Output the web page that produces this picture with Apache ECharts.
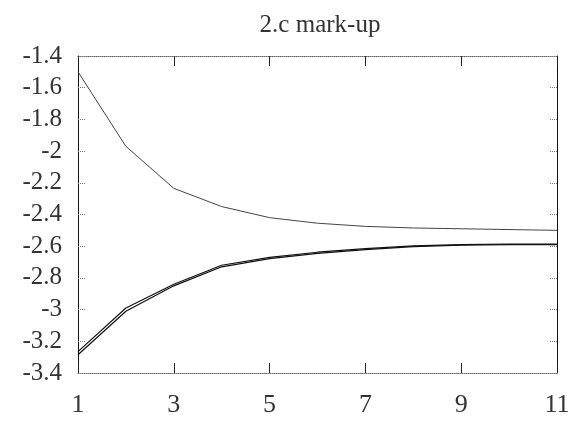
<!DOCTYPE html>
<html>
<head>
<meta charset="utf-8">
<script src="https://cdn.jsdelivr.net/npm/echarts@6/dist/echarts.min.js"></script>
<style>
  html, body { margin: 0; padding: 0; background: #fff; }
  #chart { width: 579px; height: 434px; }
</style>
</head>
<body>
<div id="chart"></div>
<script>
// periods along the x axis
const periods = [1, 2, 3, 4, 5, 6, 7, 8, 9, 10, 11];
// upper curve, falling
const upperLine = [-1.50, -1.97, -2.235, -2.35, -2.42, -2.455, -2.475, -2.485, -2.49, -2.495, -2.50];
// two lower curves, almost on top of each other
const lowerLineA = [-3.285, -3.01, -2.85, -2.73, -2.678, -2.645, -2.622, -2.603, -2.593, -2.59, -2.59];
const lowerLineB = [-3.265, -2.99, -2.84, -2.72, -2.67, -2.638, -2.615, -2.598, -2.59, -2.586, -2.586];

const titleText = '2.c mark-up';
const serif = 'Liberation Serif';

function pairs(ys) {
  return periods.map((x, i) => [x, ys[i]]);
}

const chart = echarts.init(document.getElementById('chart'));

const xBase = {
  type: 'value', min: 1, max: 11, interval: 2,
  splitLine: { show: false },
  axisTick: { inside: true, length: 10, lineStyle: { color: '#222', width: 1 } },
  axisLine: { lineStyle: { color: '#666', type: 'dotted', width: 1 } }
};
const yBase = {
  type: 'value', min: -3.4, max: -1.4, interval: 0.2,
  splitLine: { show: false },
  axisTick: { inside: true, length: 8, lineStyle: { color: '#777', type: 'dotted', width: 1 } },
  axisLine: { lineStyle: { color: '#111', width: 1 } }
};

chart.setOption({
  backgroundColor: '#fff',
  animation: false,
  title: {
    text: titleText,
    left: 315, top: 8, textAlign: 'center',
    textStyle: { fontFamily: serif, fontWeight: 'normal', fontSize: 25, color: '#333' }
  },
  grid: { left: 78, right: 22, top: 56, bottom: 61 },
  xAxis: [
    Object.assign({}, xBase, {
      position: 'bottom',
      axisLabel: {
        margin: 19, fontFamily: serif, fontSize: 26, color: '#333',
        formatter: v => String(Math.round(v))
      }
    }),
    Object.assign({}, xBase, { position: 'top', axisLabel: { show: false } })
  ],
  yAxis: [
    Object.assign({}, yBase, {
      position: 'left',
      axisLabel: {
        margin: 16, fontFamily: serif, fontSize: 25, color: '#333',
        formatter: v => String(parseFloat(v.toFixed(1)))
      }
    }),
    Object.assign({}, yBase, { position: 'right', axisLabel: { show: false } })
  ],
  series: [
    {
      type: 'line', data: pairs(upperLine), showSymbol: false,
      lineStyle: { color: '#444', width: 1 }
    },
    {
      type: 'line', data: pairs(lowerLineA), showSymbol: false,
      lineStyle: { color: '#111', width: 1.2 }
    },
    {
      type: 'line', data: pairs(lowerLineB), showSymbol: false,
      lineStyle: { color: '#111', width: 1.2 }
    }
  ]
});
</script>
</body>
</html>
